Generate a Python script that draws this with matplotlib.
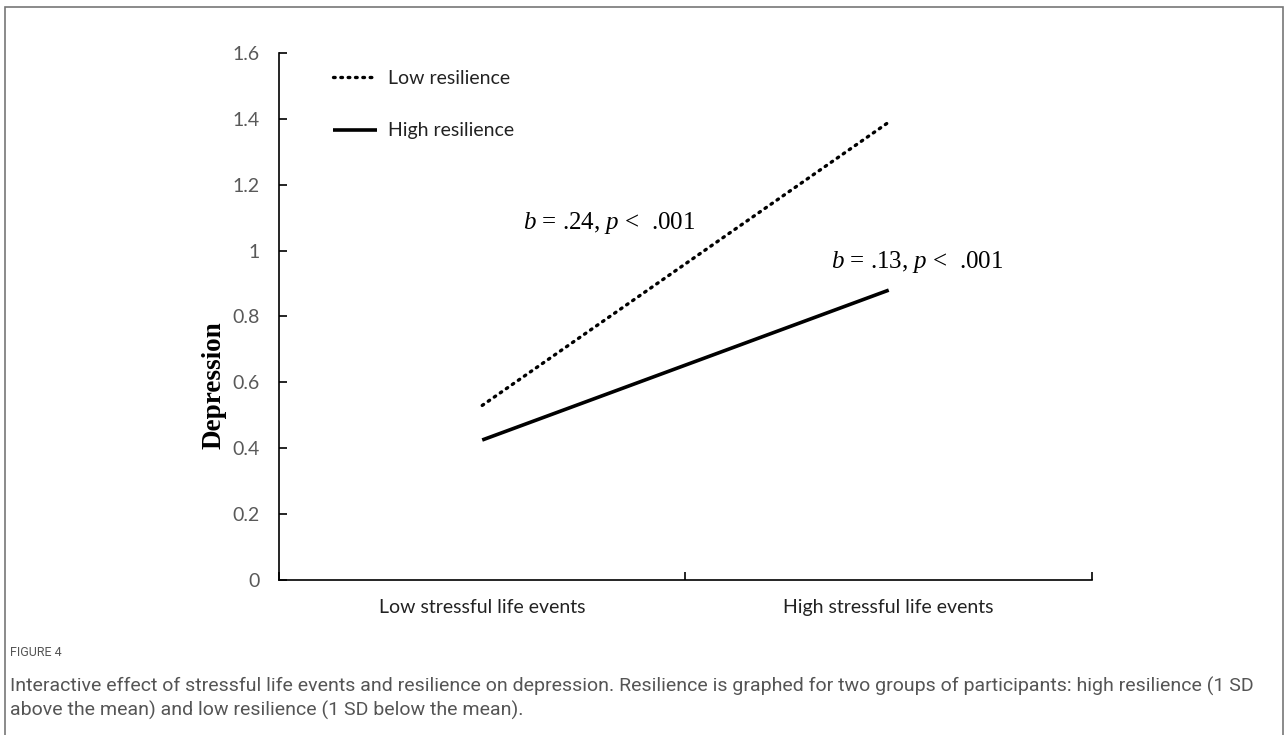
import matplotlib
matplotlib.use('Agg')
import matplotlib.pyplot as plt
from matplotlib.patches import Rectangle

# data
groups = ['Low stressful life events', 'High stressful life events']
low_res = [0.53, 1.39]
high_res = [0.425, 0.88]
yticks = [0, 0.2, 0.4, 0.6, 0.8, 1, 1.2, 1.4, 1.6]
ytick_labels = ['0', '0.2', '0.4', '0.6', '0.8', '1', '1.2', '1.4', '1.6']
slope_low = r'$b$ = .24, $p$ <  .001'
slope_high = r'$b$ = .13, $p$ <  .001'

plt.rcParams['mathtext.fontset'] = 'custom'
plt.rcParams['mathtext.rm'] = 'Liberation Serif'
plt.rcParams['mathtext.it'] = 'Liberation Serif:italic'

sans = ['Lato', 'DejaVu Sans']
narrow = ['Liberation Sans Narrow', 'Roboto', 'DejaVu Sans']

fig = plt.figure(figsize=(12.88, 7.35), dpi=100)
ax = fig.add_axes([0.2166, 0.2109, 0.6312, 0.717])

x = list(range(len(groups)))
ax.plot(x, low_res, color='black', lw=2.4, linestyle=(0, (0.5, 1.7)),
        dash_capstyle='round', label='Low resilience')
ax.plot(x, high_res, color='black', lw=2.6, solid_capstyle='butt',
        label='High resilience')

ax.set_xlim(-0.5, 1.5)
ax.set_ylim(0, 1.6)
ax.set_yticks(yticks)
ax.set_yticklabels(ytick_labels, family=sans, fontsize=14, color='#595959')
ax.set_xticks(x)
ax.set_xticklabels(groups, family=sans, fontsize=14, color='#222222')
ax.tick_params(axis='x', length=0, pad=14)
ax.set_xticks([-0.5, 0.5, 1.5], minor=True)
ax.tick_params(axis='x', which='minor', direction='in', length=6, width=1.2)
ax.tick_params(axis='y', direction='in', length=6, width=1.2, pad=14)
for s in ['top', 'right']:
    ax.spines[s].set_visible(False)
for s in ['left', 'bottom']:
    ax.spines[s].set_linewidth(1.2)

ax.set_ylabel('Depression', family='Liberation Serif', fontweight='bold',
              fontsize=19.5)
ax.yaxis.set_label_coords(-0.064, 0.37)

ax.text(0.312, 1.084, slope_low, family='Liberation Serif', fontsize=18,
        ha='center', va='center')
ax.text(1.069, 0.965, slope_high, family='Liberation Serif', fontsize=18,
        ha='center', va='center')

ax.legend(loc='upper left', bbox_to_anchor=(0.066, 0.968), frameon=False,
          borderaxespad=0, borderpad=0, handlelength=2.3, handletextpad=0.55,
          labelspacing=1.83, prop={'family': sans, 'size': 14})
for t in ax.get_legend().get_texts():
    t.set_color('#222222')

fig.patches.append(Rectangle((0.0035, -0.01), 0.993, 1.0, transform=fig.transFigure,
                             fill=False, edgecolor='#777777', lw=1.2))

fig.text(0.008, 1 - 652 / 735, 'FIGURE 4', family=narrow, fontsize=9,
         color='#555555', va='center')
fig.text(0.008, 1 - 686 / 735,
         'Interactive effect of stressful life events and resilience on depression. '
         'Resilience is graphed for two groups of participants: high resilience (1 SD',
         family=narrow, fontsize=14, color='#555555', va='center')
fig.text(0.008, 1 - 710 / 735,
         'above the mean) and low resilience (1 SD below the mean).',
         family=narrow, fontsize=14, color='#555555', va='center')

fig.savefig('out.png', dpi=100)
